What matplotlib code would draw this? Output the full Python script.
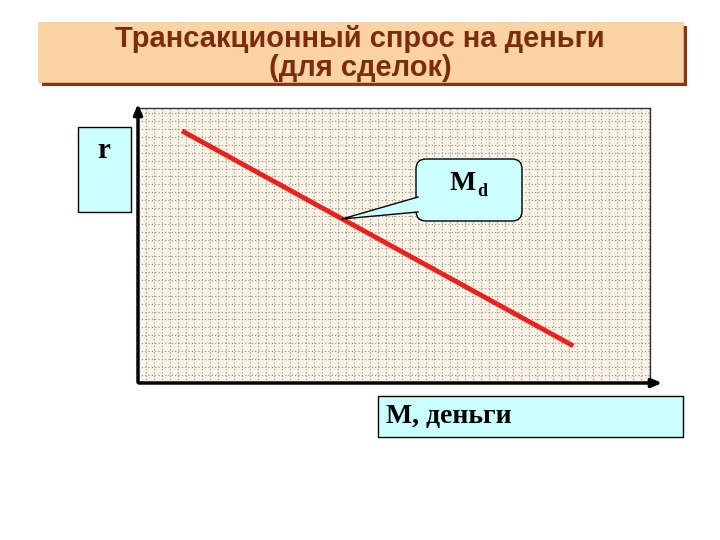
import matplotlib.pyplot as plt
from matplotlib.patches import Rectangle, FancyBboxPatch, Polygon
from matplotlib.ticker import MultipleLocator

# данные: линия спроса на деньги (условные единицы)
money = [8.6, 85.0]
rate = [49.5, 7.3]

title_lines = ["Трансакционный спрос на деньги", "(для сделок)"]
y_label = "r"
x_label = "M, деньги"
curve_label = "M"
curve_sub = "d"

fig = plt.figure(figsize=(7.2, 5.4), dpi=100)
fig.patch.set_facecolor("white")

# поле графика с мелкой сеткой
ax = fig.add_axes([138 / 720, 1 - 383 / 540, 512 / 720, 275 / 540])
ax.set_xlim(0, 100)
ax.set_ylim(0, 54)
ax.set_facecolor("#f8f3e6")
ax.xaxis.set_major_locator(MultipleLocator(1.56))
ax.yaxis.set_major_locator(MultipleLocator(1.56))
ax.grid(True, color="#9c9078", linestyle=(0, (1, 2)), linewidth=0.8)
ax.tick_params(length=0, labelbottom=False, labelleft=False)
for s in ["top", "right"]:
    ax.spines[s].set_color("#333333")
    ax.spines[s].set_linestyle((0, (1, 1)))
    ax.spines[s].set_linewidth(1.0)
for s in ["left", "bottom"]:
    ax.spines[s].set_visible(False)
ax.plot(money, rate, color="#e8231e", linewidth=3.5, solid_capstyle="butt")

# верхний слой в пикселях
ov = fig.add_axes([0, 0, 1, 1])
ov.set_xlim(0, 720)
ov.set_ylim(540, 0)
ov.axis("off")
ov.patch.set_alpha(0)

# оси со стрелками
arrow = dict(arrowstyle="-|>,head_length=0.6,head_width=0.25", color="black", lw=2.5)
ov.annotate("", xy=(138, 101), xytext=(138, 385), arrowprops=arrow)
ov.annotate("", xy=(665, 383), xytext=(136, 383), arrowprops=arrow)

# заголовок
ov.add_patch(Rectangle((42, 26), 645, 60, facecolor="#8b3412", edgecolor="none"))
ov.add_patch(Rectangle((38, 22), 645, 60, facecolor="#fbd3a6", edgecolor="#f0c090", lw=0.5))
ov.text(360, 47, title_lines[0], ha="center", va="baseline", fontsize=21,
        fontweight="bold", color="#7a2c0c", family="Liberation Sans")
ov.text(360, 76, title_lines[1], ha="center", va="baseline", fontsize=21,
        fontweight="bold", color="#7a2c0c", family="Liberation Sans")

# подпись оси r
ov.add_patch(Rectangle((78, 127), 53, 85, facecolor="#ccffff", edgecolor="black", lw=1))
ov.text(104, 151, y_label, ha="center", va="center", fontsize=21,
        fontweight="bold", family="Liberation Serif")

# выноска Md
box = FancyBboxPatch((416, 159), 106, 62,
                     boxstyle="round,pad=0,rounding_size=10",
                     facecolor="#ccffff", edgecolor="black", lw=1)
ov.add_patch(box)
ov.add_patch(Polygon([(418, 197), (342, 219), (418, 212)], closed=True,
                     facecolor="#ccffff", edgecolor="none"))
ov.plot([418, 342, 418], [197, 219, 212], color="black", lw=1)
ov.text(450, 183, curve_label, ha="left", va="center", fontsize=20,
        fontweight="bold", family="Liberation Serif")
ov.text(477, 191, curve_sub, ha="left", va="center", fontsize=13,
        fontweight="bold", family="Liberation Serif")

# подпись оси M
ov.add_patch(Rectangle((378, 396), 305, 41, facecolor="#ccffff", edgecolor="black", lw=1))
ov.text(386, 417, x_label, ha="left", va="center", fontsize=20,
        fontweight="bold", family="Liberation Serif")

fig.savefig("out.png", dpi=100)
